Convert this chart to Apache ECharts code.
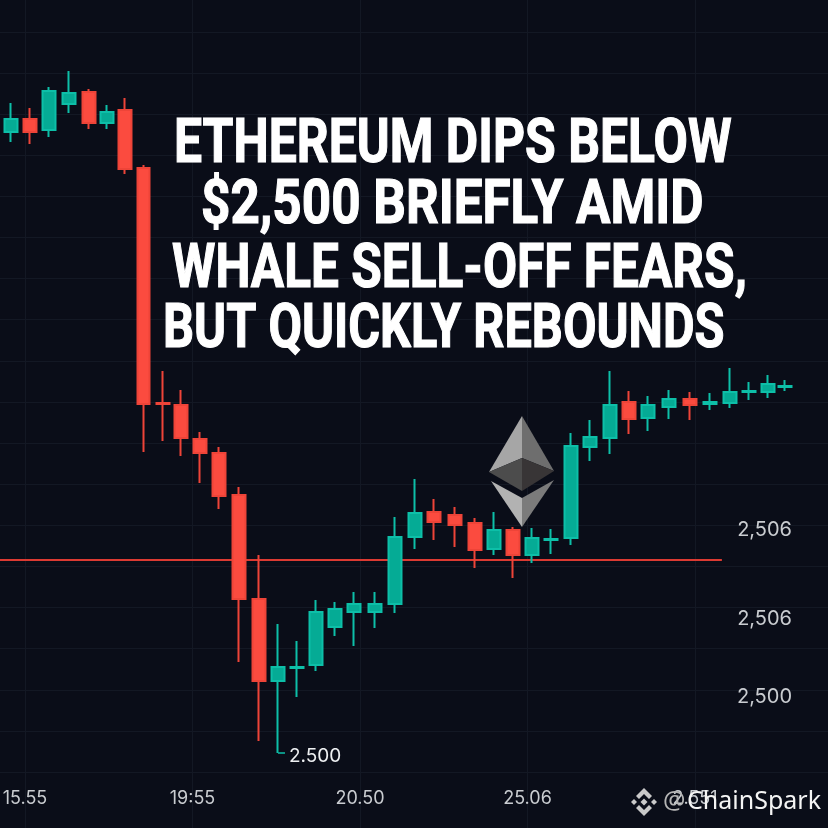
<!DOCTYPE html>
<html>
<head>
<meta charset="utf-8">
<style>
  html, body { margin: 0; padding: 0; background: #0a0d18; }
  #chart { width: 828px; height: 828px; }
</style>
<script src="https://cdn.jsdelivr.net/npm/echarts@6/dist/echarts.min.js"></script>
</head>
<body>
<div id="chart"></div>
<script>
// candles, left to right (minutes from the first one)
const minutes = [0, 4.9, 9.8, 15.0, 20.2, 24.8, 29.5, 34.3, 39.3, 43.9, 48.8, 53.7, 58.9, 64.1, 69.0, 73.9, 78.8, 83.7, 88.6, 94.1, 99.2, 104.4, 109.3, 114.7, 119.9, 124.8, 129.7, 134.6, 139.5, 144.7, 149.6, 154.8, 159.7, 164.6, 170.0, 175.5, 180.6, 185.8, 190.7, 195.6, 200.0]
const opens = [2562.1, 2563.4, 2562.3, 2564.9, 2566.1, 2563.0, 2564.3, 2558.5, 2535.0, 2534.8, 2531.4, 2530.0, 2525.8, 2515.4, 2507.2, 2508.5, 2508.8, 2512.6, 2514.1, 2514.1, 2514.9, 2521.6, 2524.1, 2523.8, 2523.0, 2520.4, 2522.3, 2519.8, 2521.3, 2521.5, 2530.6, 2531.5, 2535.1, 2533.5, 2534.6, 2535.4, 2534.9, 2535.0, 2536.1, 2536.1, 2536.6]
const closes = [2563.4, 2562.1, 2566.2, 2566.0, 2563.0, 2564.1, 2558.4, 2534.9, 2534.9, 2531.5, 2530.0, 2525.7, 2515.4, 2507.2, 2508.6, 2508.6, 2514.1, 2514.4, 2514.9, 2514.9, 2521.6, 2524.0, 2523.1, 2522.8, 2520.3, 2522.3, 2519.8, 2521.5, 2521.4, 2530.7, 2531.6, 2534.8, 2533.4, 2534.8, 2535.4, 2534.8, 2535.1, 2536.1, 2536.2, 2536.9, 2536.7]
const lows = [2561.1, 2560.9, 2561.6, 2564.0, 2562.4, 2562.4, 2557.9, 2530.1, 2531.2, 2529.7, 2527.0, 2524.4, 2509.1, 2501.2, 2500.0, 2505.6, 2508.2, 2511.7, 2510.7, 2512.5, 2514.0, 2520.4, 2521.3, 2520.6, 2518.5, 2519.8, 2517.5, 2519.0, 2519.9, 2520.8, 2529.2, 2529.9, 2531.9, 2532.2, 2533.4, 2533.3, 2534.3, 2534.5, 2535.3, 2535.5, 2536.2]
const highs = [2565.0, 2564.5, 2566.6, 2568.2, 2566.4, 2564.8, 2565.5, 2558.8, 2538.2, 2536.3, 2532.1, 2530.6, 2526.6, 2519.8, 2512.9, 2511.2, 2515.3, 2515.1, 2516.1, 2516.1, 2523.6, 2527.4, 2525.4, 2524.6, 2523.5, 2524.1, 2522.6, 2522.5, 2522.4, 2532.0, 2533.3, 2538.2, 2536.2, 2535.7, 2536.3, 2536.1, 2536.0, 2538.5, 2537.1, 2537.8, 2537.3]

// axis labels
const xTickLabels = ['', '15.55', '19:55', '20.50', '25.06', '2.551', '']
const yTickValues = [2522.3, 2513.4, 2505.6]
const yTickLabels = ['2,506', '2,506', '2,500']

// support line and low marker
const supportLevel = 2519.3
const supportSpan = [-2.84, 183.7]
const lowLevel = 2500.0
const lowSpan = [69.0, 70.8]
const lowLabel = '2.500'

const titleLines = [
  { text: 'ETHEREUM DIPS BELOW', x: 174, y: 146, scaleX: 0.805 },
  { text: '$2,500 BRIEFLY AMID', x: 201, y: 207, scaleX: 0.826 },
  { text: 'WHALE SELL-OFF FEARS,', x: 172, y: 271, scaleX: 0.8 },
  { text: 'BUT QUICKLY REBOUNDS', x: 163, y: 331, scaleX: 0.785 }
]

const GREEN = '#05ab95'
const RED = '#fb4b3f'
const GRID_COLOR = '#131824'
const LABEL_COLOR = '#c9ccd0'
const Y_MIN = 2492.5
const Y_MAX = 2575.3

const candles = opens.map((o, i) => [minutes[i], o, closes[i], lows[i], highs[i]])
const chart = echarts.init(document.getElementById('chart'))

const poly = (points, fill) => ({ type: 'polygon', shape: { points }, style: { fill }, z: 20 })

// ethereum logo
const ethLogo = [
  poly([[522, 416], [489, 472], [522, 458]], '#a6a6a6'),
  poly([[522, 416], [554, 471], [522, 458]], '#6e6e6e'),
  poly([[489, 472], [522, 458], [522, 491]], '#4c4c4c'),
  poly([[554, 471], [522, 458], [522, 491]], '#383536'),
  poly([[491, 481], [522, 498], [522, 527]], '#b2b2b2'),
  poly([[554, 480], [522, 498], [522, 527]], '#7b7b7b')
]

// watermark icon
const ICON = '#c9c9c9'
const iconDiamond = (cx, cy, r) => poly([[cx, cy - r], [cx + r, cy], [cx, cy + r], [cx - r, cy]], ICON)
const watermarkIcon = [
  iconDiamond(644, 802, 3.5),
  iconDiamond(634, 802, 3),
  iconDiamond(654, 802, 3),
  poly([[644, 788], [652, 796], [649, 799], [644, 794], [639, 799], [636, 796]], ICON),
  poly([[644, 816], [652, 808], [649, 805], [644, 810], [639, 805], [636, 808]], ICON)
]

const titleText = titleLines.map(l => ({
  type: 'text',
  x: l.x,
  y: l.y,
  scaleX: l.scaleX,
  z: 30,
  style: {
    text: l.text,
    fill: '#ffffff',
    stroke: '#ffffff',
    lineWidth: 1.2,
    font: '700 62px Roboto',
    textAlign: 'left',
    textVerticalAlign: 'middle'
  }
}))

const option = {
  backgroundColor: '#0a0d18',
  animation: false,
  grid: [
    // vertical lines and time labels
    { left: -142.5, width: 1005, top: 0, height: 828, outerBoundsMode: 'none' },
    // horizontal lines
    { left: 0, width: 828, top: -9.2, height: 781.2, outerBoundsMode: 'none' },
    // candles
    { left: 0, width: 828, top: 0, height: 828, outerBoundsMode: 'none' }
  ],
  xAxis: [
    {
      type: 'value',
      gridIndex: 0,
      min: 0,
      max: 6,
      interval: 1,
      axisLine: { show: false },
      axisTick: { show: false },
      splitLine: { show: true, lineStyle: { color: GRID_COLOR, width: 1 } },
      axisLabel: {
        inside: true,
        margin: 20,
        fontFamily: 'Inter',
        fontSize: 18,
        color: v => (v === 5 ? '#7f838a' : LABEL_COLOR),
        formatter: v => xTickLabels[v]
      }
    },
    { type: 'value', gridIndex: 1, min: 0, max: 1, show: false },
    { type: 'value', gridIndex: 2, min: -2.84, max: 211.12, show: false }
  ],
  yAxis: [
    { type: 'value', gridIndex: 0, min: 0, max: 1, show: false },
    {
      type: 'value',
      gridIndex: 1,
      min: 0,
      max: 19,
      interval: 1,
      axisLine: { show: false },
      axisTick: { show: false },
      axisLabel: { show: false },
      splitLine: { show: true, lineStyle: { color: GRID_COLOR, width: 1 } }
    },
    {
      type: 'value',
      gridIndex: 2,
      position: 'right',
      min: Y_MIN,
      max: Y_MAX,
      axisLine: { show: false },
      axisTick: { show: false },
      splitLine: { show: false },
      axisLabel: {
        inside: true,
        margin: 36,
        customValues: yTickValues,
        fontFamily: 'Inter',
        fontSize: 20,
        color: LABEL_COLOR,
        formatter: v => yTickLabels[yTickValues.indexOf(v)]
      }
    }
  ],
  series: [
    {
      type: 'line',
      name: 'support',
      xAxisIndex: 2,
      yAxisIndex: 2,
      z: 1,
      symbol: 'none',
      silent: true,
      lineStyle: { color: '#dc3a32', width: 2 },
      data: supportSpan.map(t => [t, supportLevel])
    },
    {
      type: 'line',
      name: 'low',
      xAxisIndex: 2,
      yAxisIndex: 2,
      z: 3,
      symbol: 'none',
      silent: true,
      lineStyle: { color: '#0dbfa8', width: 1.5 },
      endLabel: {
        show: true,
        distance: 4,
        offset: [0, 3],
        formatter: lowLabel,
        fontFamily: 'Inter',
        fontSize: 19,
        color: '#eef0f2'
      },
      data: lowSpan.map(t => [t, lowLevel])
    },
    {
      type: 'candlestick',
      name: 'ETH',
      xAxisIndex: 2,
      yAxisIndex: 2,
      z: 2,
      barWidth: 13,
      encode: { x: 0, y: [1, 2, 3, 4] },
      itemStyle: {
        color: GREEN,
        color0: RED,
        borderColor: '#0dbfa8',
        borderColor0: '#ee4438',
        borderWidth: 2
      },
      data: candles
    }
  ],
  graphic: {
    elements: [
      ...ethLogo,
      ...watermarkIcon,
      ...titleText,
      {
        type: 'text',
        x: 663,
        y: 802,
        z: 30,
        style: { text: '@', fill: '#b5b5b5', font: '25px "Noto Sans"', textVerticalAlign: 'middle' }
      },
      {
        type: 'text',
        x: 687,
        y: 802,
        z: 30,
        style: { text: 'ChainSpark', fill: '#f4f4f4', font: '25px "Noto Sans"', textVerticalAlign: 'middle' }
      }
    ]
  }
}

chart.setOption(option)
</script>
</body>
</html>
